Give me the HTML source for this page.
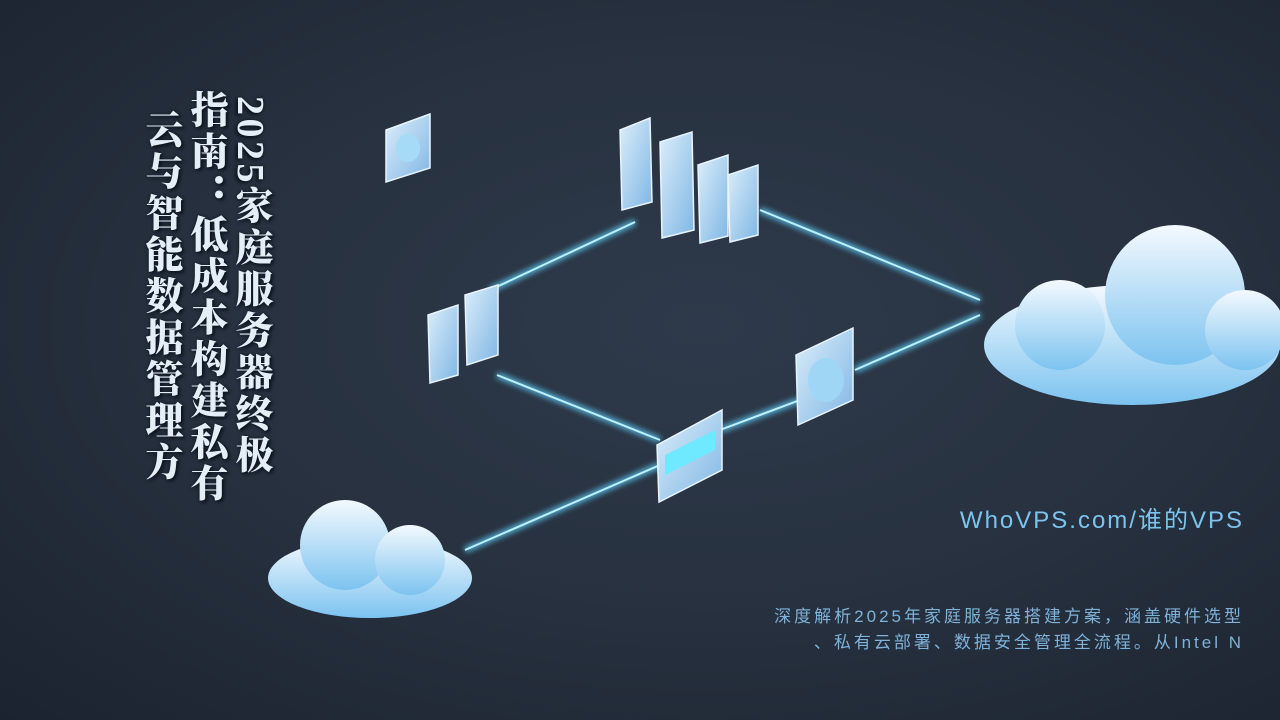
<!DOCTYPE html>
<html><head><meta charset="utf-8"><style>
body{margin:0;width:1280px;height:720px;overflow:hidden;background:radial-gradient(ellipse at 55% 45%,#2e3a4b 0%,#27313f 50%,#1c2330 100%);position:relative;font-family:"Liberation Sans","Noto Sans CJK SC",sans-serif}
.t{position:absolute;top:96px;writing-mode:vertical-rl;text-orientation:mixed;font-family:"Liberation Serif","Noto Serif CJK SC",serif;font-weight:900;font-size:38px;line-height:44px;color:#e3eef7;letter-spacing:3.5px;text-shadow:0 0 3px #0d1520,2px 2px 3px #0d1520}
.w{position:absolute;right:36px;top:500px;color:#7cc4ee;font-size:24px;letter-spacing:2px}
.d{position:absolute;right:36px;top:604px;color:#7fb2d8;font-size:17px;line-height:26px;text-align:right;letter-spacing:3px}
</style></head><body>
<svg width="1280" height="720" style="position:absolute;left:0;top:0">
<defs>
<filter id="g"><feGaussianBlur stdDeviation="3"/></filter>
<linearGradient id="c" x1="0" y1="0" x2="0" y2="1"><stop offset="0" stop-color="#f4f9fe"/><stop offset="1" stop-color="#7cc3f0"/></linearGradient>
<linearGradient id="p" x1="0" y1="0" x2="1" y2="1"><stop offset="0" stop-color="#dceefa"/><stop offset="1" stop-color="#7fb6e4"/></linearGradient>
</defs>
<g stroke="#5fd4ff" stroke-width="6" filter="url(#g)" opacity=".8">
<line x1="635" y1="222" x2="490" y2="290"/><line x1="760" y1="210" x2="980" y2="300"/><line x1="497" y1="375" x2="660" y2="440"/><line x1="720" y1="430" x2="800" y2="400"/><line x1="855" y1="370" x2="980" y2="315"/><line x1="465" y1="550" x2="660" y2="465"/></g>
<g stroke="#bdf0ff" stroke-width="2">
<line x1="635" y1="222" x2="490" y2="290"/><line x1="760" y1="210" x2="980" y2="300"/><line x1="497" y1="375" x2="660" y2="440"/><line x1="720" y1="430" x2="800" y2="400"/><line x1="855" y1="370" x2="980" y2="315"/><line x1="465" y1="550" x2="660" y2="465"/></g>
<g fill="url(#c)">
<ellipse cx="1132" cy="345" rx="148" ry="60"/><circle cx="1175" cy="295" r="70"/><circle cx="1060" cy="325" r="45"/><circle cx="1245" cy="330" r="40"/>
<ellipse cx="370" cy="578" rx="102" ry="40"/><circle cx="345" cy="545" r="45"/><circle cx="410" cy="560" r="35"/></g>
<g fill="url(#p)" stroke="#e8f4ff" stroke-width="1.5">
<polygon points="386,130 430,114 430,168 386,182"/>
<polygon points="620,130 650,118 652,202 622,210"/><polygon points="660,142 692,132 694,230 662,238"/>
<polygon points="698,165 728,155 728,236 700,243"/><polygon points="728,175 758,165 758,235 730,242"/>
<polygon points="428,315 458,305 458,375 430,383"/><polygon points="465,295 498,285 498,355 467,365"/>
<polygon points="796,355 853,328 853,400 798,425"/><polygon points="657,445 722,410 722,470 659,502"/></g>
<ellipse cx="408" cy="148" rx="12" ry="14" fill="#a6dbf7"/><ellipse cx="826" cy="380" rx="18" ry="22" fill="#9fd6f6"/>
<polygon points="665,455 715,430 715,450 665,475" fill="#6ee9ff"/>
</svg>
<div class="t" style="left:228px">2025家庭服务器终极</div>
<div class="t" style="left:183px;top:90px">指南：低成本构建私有</div>
<div class="t" style="left:138px;top:110px">云与智能数据管理方</div>
<div class="w">WhoVPS.com/谁的VPS</div>
<div class="d">深度解析2025年家庭服务器搭建方案，涵盖硬件选型<br>、私有云部署、数据安全管理全流程。从Intel N</div>
</body></html>
